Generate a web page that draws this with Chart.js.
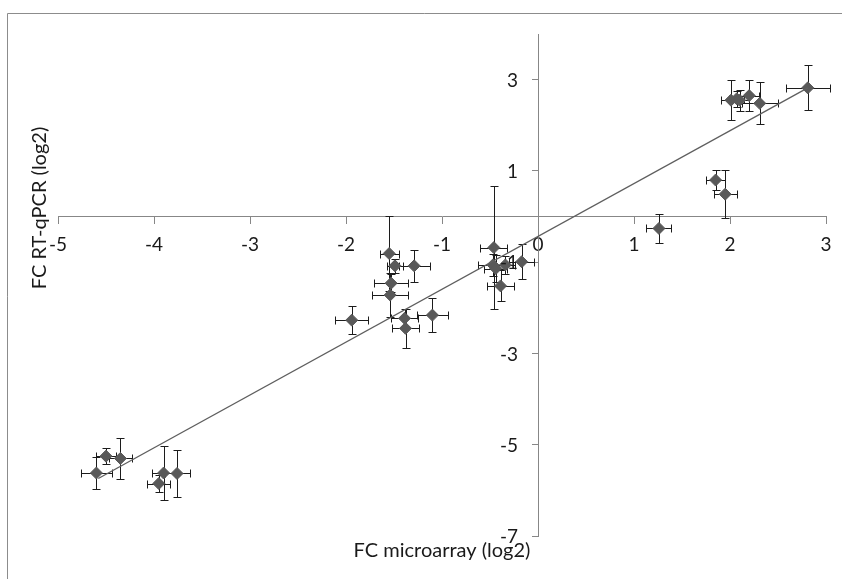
<!DOCTYPE html>
<html lang="en">
<head>
<meta charset="UTF-8">
<title>FC microarray vs FC RT-qPCR</title>
<script src="https://cdn.jsdelivr.net/npm/chart.js"></script>
<style>
    html, body { margin: 0; padding: 0; background: #fff; }
    #wrap { width: 842px; height: 579px; }
</style>
</head>
<body>
<div id="wrap"><canvas id="chart" width="842" height="579"></canvas></div>
<script>
// log2 fold change, microarray (x) vs RT-qPCR (y), with error half-widths
const microarray = [-4.60, -4.50, -4.35, -3.90, -3.76, -3.95,
                    -1.55, -1.49, -1.29, -1.53, -1.54, -1.94, -1.39, -1.38, -1.10,
                    -0.46, -0.47, -0.44, -0.34, -0.39, -0.17,
                    1.26, 1.85, 1.95, 2.01, 2.07, 2.10, 2.20, 2.31, 2.81];
const qpcr = [-5.62, -5.25, -5.30, -5.62, -5.63, -5.85,
              -0.81, -1.08, -1.08, -1.46, -1.72, -2.27, -2.23, -2.45, -2.16,
              -0.68, -1.06, -1.14, -1.06, -1.52, -0.99,
              -0.26, 0.80, 0.49, 2.55, 2.58, 2.55, 2.65, 2.48, 2.82];
const microErr = [0.16, 0.10, 0.12, 0.12, 0.13, 0.12,
                  0.10, 0.08, 0.16, 0.18, 0.19, 0.17, 0.14, 0.14, 0.16,
                  0.14, 0.15, 0.12, 0.10, 0.14, 0.13,
                  0.13, 0.10, 0.12, 0.10, 0.08, 0.10, 0.10, 0.19, 0.23];
const qpcrErr = [0.35, 0.17, 0.45, 0.60, 0.51, 0.18,
                 0.83, 0.15, 0.35, 0.20, 0.48, 0.31, 0.20, 0.42, 0.38,
                 1.35, 0.25, 0.30, 0.20, 0.34, 0.38,
                 0.31, 0.21, 0.52, 0.44, 0.18, 0.23, 0.34, 0.46, 0.49];
// linear trendline end points
const trendX = [-4.58, 2.81];
const trendY = [-5.74, 2.82];
const xTicks = [-5, -4, -3, -2, -1, 0, 1, 2, 3];
const yTicks = [-7, -5, -3, -1, 1, 3];

const FONT = 'Lato, "Open Sans", sans-serif';
const AXIS_GREY = '#878787';
const TEXT = '#1a1a1a';

const frame = {
    id: 'frame',
    beforeDraw(chart) {
        const ctx = chart.ctx;
        ctx.save();
        ctx.fillStyle = '#fff';
        ctx.fillRect(0, 0, chart.width, chart.height);
        ctx.strokeStyle = '#8c8c8c';
        ctx.lineWidth = 1;
        ctx.beginPath();
        ctx.moveTo(7.5, chart.height);
        ctx.lineTo(7.5, 13.5);
        ctx.lineTo(chart.width, 13.5);
        ctx.stroke();
        ctx.restore();
    }
};

const errorBars = {
    id: 'errorBars',
    beforeDatasetsDraw(chart) {
        const { ctx, scales: { x, y } } = chart;
        const cap = 4;
        ctx.save();
        ctx.strokeStyle = '#1c1c1c';
        ctx.lineWidth = 1;
        microarray.forEach((mx, i) => {
            const px = Math.round(x.getPixelForValue(mx)) + 0.5;
            const py = Math.round(y.getPixelForValue(qpcr[i])) + 0.5;
            const x1 = Math.round(x.getPixelForValue(mx - microErr[i])) + 0.5;
            const x2 = Math.round(x.getPixelForValue(mx + microErr[i])) + 0.5;
            const y1 = Math.round(y.getPixelForValue(qpcr[i] + qpcrErr[i])) + 0.5;
            const y2 = Math.round(y.getPixelForValue(qpcr[i] - qpcrErr[i])) + 0.5;
            ctx.beginPath();
            ctx.moveTo(x1, py); ctx.lineTo(x2, py);
            ctx.moveTo(x1, py - cap); ctx.lineTo(x1, py + cap);
            ctx.moveTo(x2, py - cap); ctx.lineTo(x2, py + cap);
            ctx.moveTo(px, y1); ctx.lineTo(px, y2);
            ctx.moveTo(px - cap, y1); ctx.lineTo(px + cap, y1);
            ctx.moveTo(px - cap, y2); ctx.lineTo(px + cap, y2);
            ctx.stroke();
        });
        ctx.restore();
    }
};

// y labels sit left of the crossing axis with a gap, which Chart.js does not do for a positioned axis
const yLabels = {
    id: 'yLabels',
    afterDatasetsDraw(chart) {
        const { ctx, scales: { x, y } } = chart;
        const axisX = x.getPixelForValue(0);
        ctx.save();
        ctx.fillStyle = TEXT;
        ctx.font = '19px ' + FONT;
        ctx.textAlign = 'right';
        ctx.textBaseline = 'middle';
        yTicks.forEach(v => ctx.fillText(String(v), axisX - 20, y.getPixelForValue(v) + 1));
        ctx.restore();
    }
};

const axisTitles = {
    id: 'axisTitles',
    afterDraw(chart) {
        const { ctx, chartArea } = chart;
        ctx.save();
        ctx.fillStyle = TEXT;
        ctx.font = '20px ' + FONT;
        ctx.textAlign = 'center';
        ctx.textBaseline = 'middle';
        ctx.fillText('FC microarray (log2)', (chartArea.left + chartArea.right) / 2, 551);
        ctx.translate(40, 208);
        ctx.rotate(-Math.PI / 2);
        ctx.fillText('FC RT-qPCR (log2)', 0, 0);
        ctx.restore();
    }
};

function noPad(scale) {
    scale.paddingLeft = 0;
    scale.paddingRight = 0;
    scale.paddingTop = 0;
    scale.paddingBottom = 0;
}

new Chart(document.getElementById('chart'), {
    type: 'scatter',
    data: {
        datasets: [
            {
                type: 'line',
                data: trendX.map((v, i) => ({ x: v, y: trendY[i] })),
                borderColor: '#5f5f5f',
                borderWidth: 1.3,
                pointRadius: 0,
                fill: false,
                order: 0
            },
            {
                data: microarray.map((v, i) => ({ x: v, y: qpcr[i] })),
                pointStyle: 'rectRot',
                pointRadius: 6,
                backgroundColor: '#595959',
                borderColor: '#595959',
                borderWidth: 1,
                order: 1
            }
        ]
    },
    options: {
        responsive: false,
        animation: false,
        layout: { padding: { left: 58, right: 16, top: 34, bottom: 43 } },
        plugins: { legend: { display: false }, tooltip: { enabled: false } },
        scales: {
            x: {
                type: 'linear',
                min: -5,
                max: 3,
                position: { y: 0 },
                afterBuildTicks: s => { s.ticks = xTicks.map(v => ({ value: v })); },
                afterFit: noPad,
                grid: { display: true, drawOnChartArea: false, drawTicks: true, tickLength: 7, color: AXIS_GREY },
                border: { display: true, color: AXIS_GREY, width: 1 },
                ticks: { font: { family: FONT, size: 19 }, color: TEXT, padding: 10, maxRotation: 0, autoSkip: false }
            },
            y: {
                type: 'linear',
                min: -7,
                max: 4,
                position: { x: 0 },
                afterBuildTicks: s => { s.ticks = yTicks.map(v => ({ value: v })); },
                afterFit: noPad,
                grid: { display: true, drawOnChartArea: false, drawTicks: true, tickLength: 6, color: AXIS_GREY },
                border: { display: true, color: AXIS_GREY, width: 1 },
                ticks: { display: false }
            }
        }
    },
    plugins: [frame, errorBars, yLabels, axisTitles]
});
</script>
</body>
</html>
